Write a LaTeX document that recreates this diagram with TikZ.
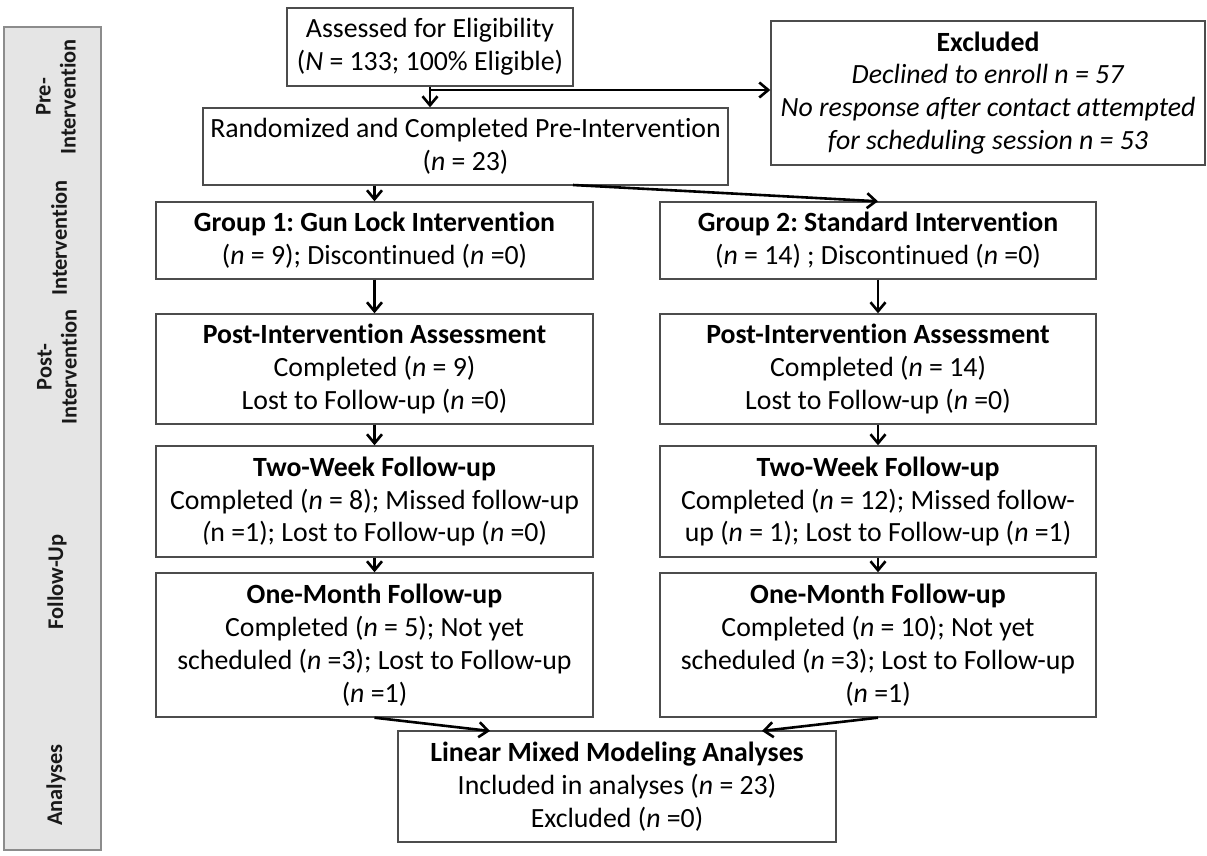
\documentclass[tikz,border=0pt]{standalone}
\usepackage{fontspec}
\setmainfont{Carlito}[Ligatures=NoCommon]
\usetikzlibrary{arrows.meta}
\frenchspacing
\begin{document}
\begin{tikzpicture}[x=0.5pt,y=-0.5pt,
		box/.style={draw=black!70,line width=0.7pt,rectangle,align=center,inner sep=0pt,font=\fontsize{13.9}{16.4}\selectfont},
		stage/.style={rotate=90,align=center,text=black!90,font=\fontsize{11.2}{12.5}\selectfont\bfseries},
		arr/.style={-{Straight Barb[length=4.5pt,width=7.5pt]},line width=1.3pt}]
		\useasboundingbox (0,0) rectangle (1207,856);
		
		% stages on the left
		\node[draw=black!45,fill=black!10,line width=0.8pt,minimum width=48.5pt,minimum height=411.5pt,inner sep=0pt] (bar) at (52.5,438.5) {};
		\node[stage] (s1) at (56,97) {Pre-\\Intervention};
		\node[stage] (s2) at (59,238) {Intervention};
		\node[stage] (s3) at (57,367) {Post-\\Intervention};
		\node[stage] (s4) at (57,582) {Follow-Up};
		\node[stage] (s5) at (56,785) {Analyses};
		
		\node[box,minimum width=143pt,minimum height=39pt] (E) at (430,47) {Assessed for Eligibility\\(\textit{N} = 133; 100\% Eligible)};
		\node[box,minimum width=217pt,minimum height=72pt] (X) at (988,93) {\textbf{Excluded}\\\textit{Declined to enroll n = 57}\\\textit{No response after contact attempted}\\\textit{for scheduling session n = 53}};
		\node[box,minimum width=262.5pt,minimum height=38.5pt] (R) at (465.5,146.5) {Randomized and Completed Pre-Intervention\\(\textit{n} = 23)};
		
		\node[box,minimum width=218.5pt,minimum height=38.5pt] (G1) at (374.5,240.5) {\textbf{Group 1: Gun Lock Intervention}\\(\textit{n} = 9); Discontinued (\textit{n} =0)};
		\node[box,minimum width=218pt,minimum height=38.5pt] (G2) at (878,240.5) {\textbf{Group 2: Standard Intervention}\\(\textit{n} = 14) ; Discontinued (\textit{n} =0)};
		\node[box,minimum width=218.5pt,minimum height=55pt] (P1) at (374.5,369) {\textbf{Post-Intervention Assessment}\\Completed (\textit{n} = 9)\\Lost to Follow-up (\textit{n} =0)};
		\node[box,minimum width=218pt,minimum height=55pt] (P2) at (878,369) {\textbf{Post-Intervention Assessment}\\Completed (\textit{n} = 14)\\Lost to Follow-up (\textit{n} =0)};
		\node[box,minimum width=218.5pt,minimum height=55.5pt] (T1) at (374.5,501.5) {\textbf{Two-Week Follow-up}\\Completed (\textit{n} = 8); Missed follow-up\\\textit{(}n =1); Lost to Follow-up (\textit{n} =0)};
		\node[box,minimum width=218pt,minimum height=55.5pt] (T2) at (878,501.5) {\textbf{Two-Week Follow-up}\\Completed (\textit{n} = 12); Missed follow-\\up (\textit{n} = 1); Lost to Follow-up (\textit{n} =1)};
		\node[box,minimum width=218.5pt,minimum height=72pt] (M1) at (374.5,645) {\textbf{One-Month Follow-up}\\Completed (\textit{n} = 5); Not yet\\scheduled (\textit{n} =3); Lost to Follow-up\\(\textit{n} =1)};
		\node[box,minimum width=218pt,minimum height=72pt] (M2) at (878,645) {\textbf{One-Month Follow-up}\\Completed (\textit{n} = 10); Not yet\\scheduled (\textit{n} =3); Lost to Follow-up\\(\textit{n} =1)};
		\node[box,minimum width=219pt,minimum height=55.5pt] (L) at (617,786.5) {\textbf{Linear Mixed Modeling Analyses}\\Included in analyses (\textit{n} = 23)\\Excluded (\textit{n} =0)};
		
		\coordinate (split) at (430,90);
		\coordinate (fork) at (573,185);
		\coordinate (inL) at (490,731);
		\coordinate (inR) at (762,731);
		
		\draw[arr] (E.south) -- (E.south |- R.north);
		\draw[arr] (split) -- (split -| X.west);
		\draw[arr] (G1.north |- R.south) -- (G1.north);
		\draw[arr] (fork) -- (G2.north);
		\draw[arr] (G1) -- (P1);
		\draw[arr] (P1) -- (T1);
		\draw[arr] (T1) -- (M1);
		\draw[arr] (G2) -- (P2);
		\draw[arr] (P2) -- (T2);
		\draw[arr] (T2) -- (M2);
		\draw[arr] (M1.south) -- (inL);
		\draw[arr] (M2.south) -- (inR);
		\end{tikzpicture}
\end{document}
